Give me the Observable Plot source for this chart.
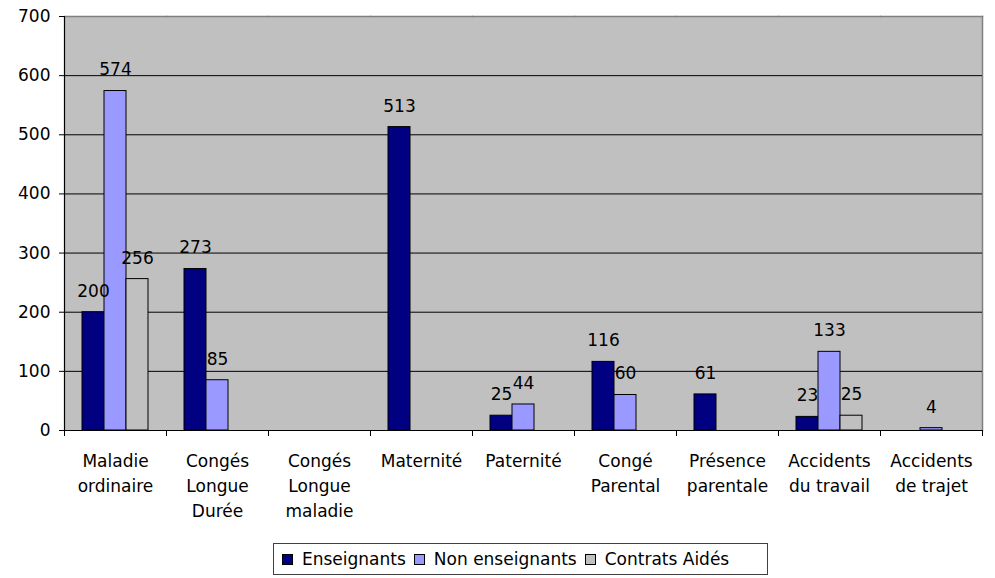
<!DOCTYPE html>
<html>
<head>
<meta charset="utf-8">
<script src="https://cdn.jsdelivr.net/npm/d3@7"></script>
<script src="https://cdn.jsdelivr.net/npm/@observablehq/plot@0.6"></script>
<style>
  html, body { margin: 0; padding: 0; background: #fff; }
  #wrap { position: relative; width: 995px; height: 578px; font-family: "DejaVu Sans", sans-serif; }
  #legend { position: absolute; left: 273px; top: 543px; width: 493px; height: 30px;
    border: 1px solid #404040; display: flex; align-items: center; font-size: 17px; color: #000; box-sizing: content-box; }
  .item { display: flex; align-items: center; margin-left: 8px; margin-right: 0px; }
  .sw { width: 9px; height: 9px; border: 1px solid #000; margin-right: 9px; }
</style>
</head>
<body>
<div id="wrap"><div id="chart"></div><div id="legend"></div></div>
<script>
const categories = ["Maladie ordinaire", "Congés Longue Durée", "Congés Longue maladie", "Maternité", "Paternité", "Congé Parental", "Présence parentale", "Accidents du travail", "Accidents de trajet"];
const tickLabels = ["Maladie\nordinaire", "Congés\nLongue\nDurée", "Congés\nLongue\nmaladie", "Maternité", "Paternité", "Congé\nParental", "Présence\nparentale", "Accidents\ndu travail", "Accidents\nde trajet"];
const series = ["Enseignants", "Non enseignants", "Contrats Aidés"];
const enseignants    = [200, 273, null, 513, 25, 116, 61, 23, null];
const nonEnseignants = [574, 85, null, null, 44, 60, null, 133, 4];
const contratsAides  = [256, null, null, null, null, null, null, 25, null];
const yTicks = [0, 100, 200, 300, 400, 500, 600, 700];
const colors = ["#000080", "#9999ff", "#c0c0c0"];

const seriesValues = [enseignants, nonEnseignants, contratsAides];
const data = [];
categories.forEach((c, i) => {
  series.forEach((s, j) => {
    const v = seriesValues[j][i];
    if (v != null) data.push({cat: c, series: s, value: v});
  });
});

const W = 995, H = 540, MT = 16, MB = 110, ML = 62, MR = 11;
const plotH = H - MT - MB;
const font = "DejaVu Sans";

const chart = Plot.plot({
  width: W, height: H,
  marginTop: MT, marginBottom: MB, marginLeft: ML, marginRight: MR,
  style: {fontFamily: font, fontSize: "17px", background: "transparent", color: "#000"},
  fx: {domain: categories, padding: 0, axis: null},
  x: {domain: series, paddingInner: 0, paddingOuter: 0.73, axis: null},
  y: {domain: [0, 700], axis: null},
  color: {domain: series, range: colors},
  marks: [
    Plot.frame({fill: "#c0c0c0", stroke: "#c0c0c0"}),
    Plot.frame({anchor: "top", stroke: "#808080", strokeWidth: 1.5}),
    Plot.frame({anchor: "right", stroke: "#808080", strokeWidth: 1.5, fx: () => categories[categories.length - 1]}),
    Plot.gridY(yTicks.filter(t => t > 0 && t < 700), {stroke: "#000", strokeOpacity: 1}),
    Plot.barY(data, {fx: "cat", x: "series", y: "value", fill: "series", stroke: "#000", strokeWidth: 1}),
    Plot.ruleY([0], {stroke: "#000", strokeWidth: 1.2}),
    Plot.frame({anchor: "left", stroke: "#000", strokeWidth: 1.2, fx: () => categories[0]}),
    Plot.frame({anchor: "left", stroke: "#000", insetTop: plotH, insetBottom: -5}),
    Plot.frame({anchor: "right", stroke: "#000", insetTop: plotH, insetBottom: -5}),
    Plot.axisY({ticks: yTicks, tickSize: 5, tickPadding: 9, fontSize: 17, label: null, stroke: "#000", fill: "#000"}),
    Plot.text(data, {fx: "cat", x: "series", y: "value", text: d => String(d.value), dy: -21, fontSize: 17, fill: "#000"}),
    Plot.text(categories, {fx: d => d, text: (d, i) => tickLabels[i], frameAnchor: "bottom", lineAnchor: "top", dy: 19, lineHeight: 1.47, fontSize: 17, fill: "#000"})
  ]
});
document.getElementById("chart").appendChild(chart);

const legend = document.getElementById("legend");
series.forEach((s, j) => {
  const item = document.createElement("div");
  item.className = "item";
  const sw = document.createElement("div");
  sw.className = "sw";
  sw.style.background = colors[j];
  const lab = document.createElement("span");
  lab.textContent = s;
  item.appendChild(sw);
  item.appendChild(lab);
  legend.appendChild(item);
});
</script>
</body>
</html>
